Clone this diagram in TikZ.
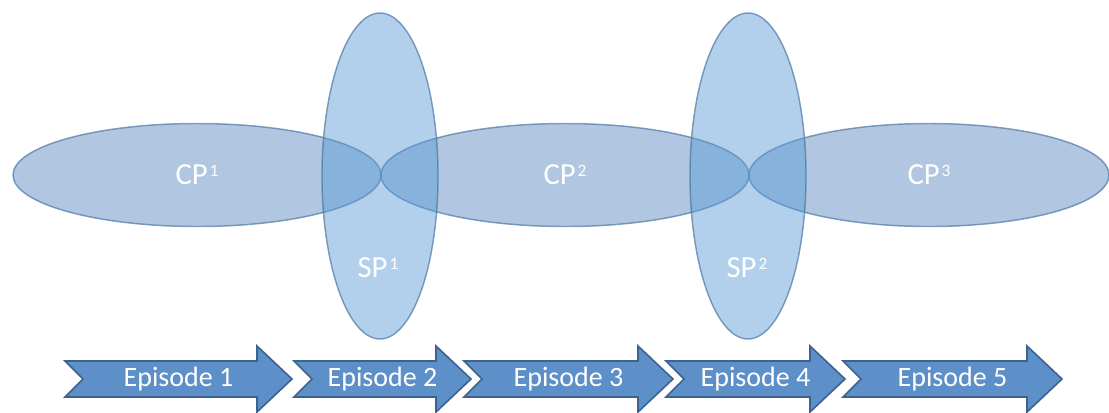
\documentclass[tikz,border=0pt]{standalone}
\usepackage{fontspec}
\setmainfont{Carlito}
\usetikzlibrary{shapes.geometric}
\definecolor{cpfill}{RGB}{79,129,189}
\definecolor{spfill}{RGB}{91,155,213}
\definecolor{ellline}{RGB}{70,112,160}
\definecolor{arrfill}{RGB}{93,143,200}
\definecolor{arrline}{RGB}{62,98,142}
\newcommand\mysup[1]{\hspace{1.5pt}\raisebox{6.4pt}{\fontsize{13}{13}\selectfont #1}}
\begin{document}
\begin{tikzpicture}[x=0.75pt,y=-0.75pt,
  ellbase/.style={ellipse, draw=ellline, draw opacity=0.65, line width=1.1pt,
    fill opacity=0.45, text opacity=1, inner sep=0pt, text=white,
    font=\fontsize{23}{27}\selectfont},
  cpell/.style={ellbase, fill=cpfill, minimum width=276pt, minimum height=77.25pt},
  spell/.style={ellbase, fill=spfill, fill opacity=0.47, minimum width=87pt, minimum height=244.5pt},
  lbl/.style={text=white, inner sep=0pt, font=\fontsize{23}{27}\selectfont},
  arrshape/.style={fill=arrfill, draw=arrline, line width=1.2pt, line join=miter},
  eplbl/.style={text=white, inner sep=0pt, font=\fontsize{21}{25}\selectfont}]
\useasboundingbox (0,0) rectangle (1109,412);
% CP ellipses
\node[cpell] (cp1) at (197,175) {CP\mysup{1}};
\node[cpell] (cp2) at (565,175) {CP\mysup{2}};
\node[cpell, minimum width=270pt] (cp3) at (929,175) {CP\mysup{3}};
% SP ellipses
\node[spell] (sp1) at (380,176) {};
\node[spell] (sp2) at (748,176) {};
\node[lbl] (sp1l) at (378,268) {SP\mysup{1}};
\node[lbl] (sp2l) at (747,268) {SP\mysup{2}};
% Episode arrows
\foreach \t/\p/\n in {65/292/1, 294/471/2, 464/673/3, 666/845/4, 843/1062/5}{
  \pgfmathsetmacro{\hb}{\p-35}
  \pgfmathsetmacro{\nt}{\t+18}
  \pgfmathsetmacro{\cx}{(\t+\p)/2}
  \draw[arrshape] (\t,361) -- (\hb,361) -- (\hb,346) -- (\p,379) -- (\hb,412)
    -- (\hb,397) -- (\t,397) -- (\nt,379) -- cycle;
  \node[eplbl] (ep\n) at (\cx,379) {Episode \n};
}
\end{tikzpicture}
\end{document}
